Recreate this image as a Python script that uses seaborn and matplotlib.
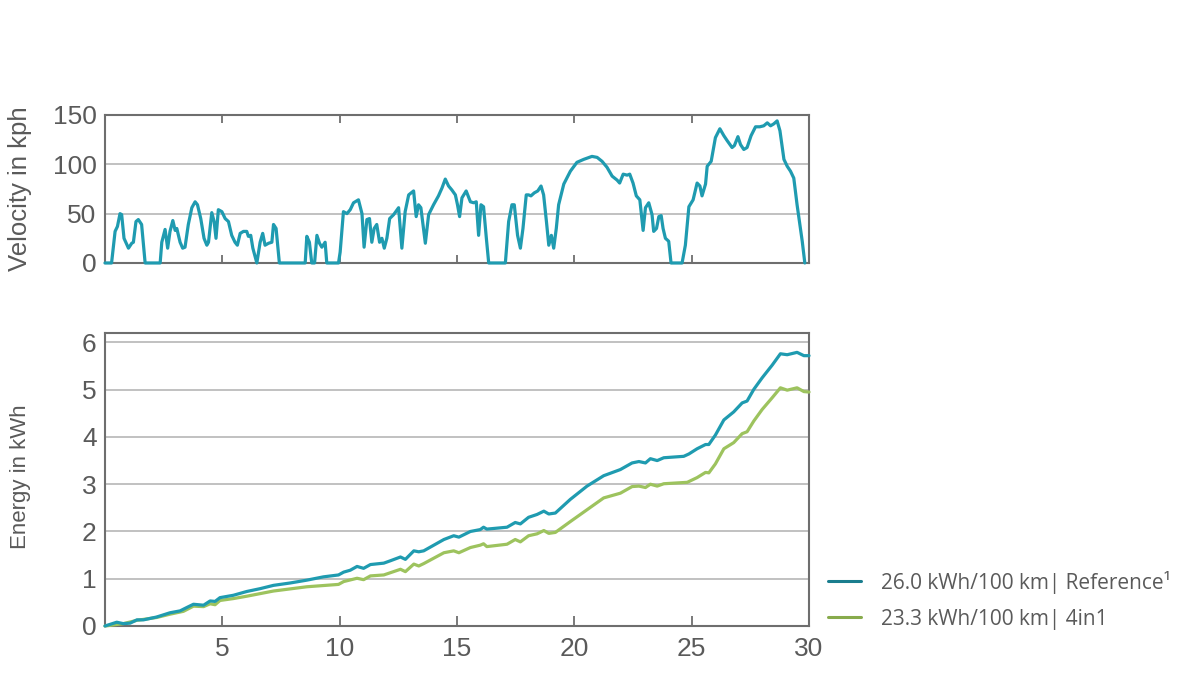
import matplotlib
matplotlib.use("Agg")
import matplotlib.pyplot as plt
from matplotlib.lines import Line2D
import pandas as pd
import seaborn as sns

sns.set_style("white")
plt.rcParams['font.family'] = ['Liberation Sans', 'DejaVu Sans']

# velocity trace (time in min, kph)
vel_time = [0.0, 0.28, 0.43, 0.53, 0.64, 0.71, 0.81, 1.00, 1.14, 1.21, 1.32, 1.42, 1.56, 1.71,
            2.35, 2.42, 2.56, 2.67, 2.77, 2.89, 2.99, 3.06, 3.20, 3.31, 3.41, 3.55, 3.70, 3.84,
            3.94, 4.08, 4.22, 4.34, 4.41, 4.55, 4.65, 4.73, 4.83, 4.98, 5.12, 5.26, 5.40, 5.54,
            5.64, 5.76, 5.90, 6.04, 6.11, 6.21, 6.30, 6.47, 6.61, 6.72, 6.82, 6.97, 7.11, 7.18,
            7.29, 7.43, 8.53, 8.60, 8.71, 8.81, 8.93, 9.03, 9.14, 9.24, 9.38, 9.45, 9.95, 10.02,
            10.16, 10.31, 10.45, 10.59, 10.80, 10.95, 11.04, 11.16, 11.27, 11.37, 11.47, 11.58,
            11.70, 11.80, 11.90, 12.01, 12.13, 12.30, 12.51, 12.65, 12.79, 12.94, 13.15, 13.26,
            13.36, 13.46, 13.65, 13.79, 14.00, 14.21, 14.36, 14.50, 14.64, 14.78, 14.93, 15.02,
            15.11, 15.21, 15.39, 15.57, 15.71, 15.82, 15.92, 16.02, 16.13, 16.25, 16.35, 17.06,
            17.20, 17.34, 17.44, 17.58, 17.70, 17.81, 17.95, 18.05, 18.15, 18.29, 18.44, 18.58,
            18.69, 18.81, 18.91, 19.02, 19.12, 19.23, 19.33, 19.55, 19.83, 20.11, 20.40, 20.75,
            20.97, 21.18, 21.39, 21.61, 21.82, 21.93, 22.08, 22.25, 22.36, 22.50, 22.64, 22.79,
            22.93, 23.03, 23.17, 23.31, 23.38, 23.50, 23.60, 23.70, 23.78, 23.88, 24.02, 24.12,
            24.59, 24.73, 24.88, 25.06, 25.23, 25.35, 25.44, 25.59, 25.66, 25.83, 26.01, 26.20,
            26.37, 26.51, 26.72, 26.82, 26.97, 27.08, 27.22, 27.36, 27.53, 27.72, 27.90, 28.07,
            28.22, 28.36, 28.50, 28.64, 28.76, 28.93, 29.07, 29.21, 29.35, 29.49, 29.61, 29.71,
            29.82]
velocity = [0, 0, 32, 37, 50, 49, 25, 15, 20, 21, 42, 44, 39, 0,
            0, 21, 34, 15, 32, 43, 33, 35, 21, 15, 16, 39, 56, 62,
            59, 45, 25, 18, 21, 51, 42, 25, 54, 52, 45, 42, 28, 21,
            18, 30, 32, 32, 27, 28, 15, 0, 21, 30, 18, 20, 21, 39,
            35, 0, 0, 27, 21, 0, 0, 28, 20, 16, 21, 0, 0, 11,
            52, 50, 54, 61, 64, 50, 16, 44, 45, 21, 35, 39,
            21, 25, 15, 25, 45, 49, 56, 15, 52, 69, 73, 47,
            59, 56, 20, 49, 59, 68, 76, 85, 78, 74, 69, 59,
            47, 66, 73, 62, 61, 62, 28, 59, 57, 25, 0, 0,
            42, 59, 59, 28, 15, 35, 69, 69, 68, 71, 73, 78,
            69, 42, 18, 28, 15, 35, 59, 80, 93, 102, 105, 108,
            107, 103, 97, 88, 84, 81, 90, 89, 90, 81, 68, 64,
            33, 56, 61, 49, 32, 35, 47, 48, 35, 25, 22, 0,
            0, 18, 57, 64, 81, 78, 68, 80, 98, 103, 127, 136,
            129, 124, 117, 119, 128, 120, 115, 117, 129, 138, 138, 139,
            142, 139, 141, 144, 134, 105, 98, 93, 86, 59, 39, 22,
            0]

# cumulative energy (time in min, kWh)
ref_time = [0.0, 0.5, 0.78, 1.07, 1.36, 1.64, 2.2, 2.77, 3.2, 3.48, 3.77, 4.2, 4.48, 4.69,
            4.9, 5.47, 6.04, 6.61, 7.18, 7.89, 8.6, 9.31, 9.95, 10.17, 10.45, 10.74, 11.02,
            11.31, 11.88, 12.16, 12.59, 12.8, 13.16, 13.37, 13.58, 14.01, 14.44, 14.86, 15.08,
            15.57, 15.99, 16.13, 16.27, 17.13, 17.48, 17.70, 18.05, 18.41, 18.70, 18.91, 19.19,
            19.83, 20.54, 21.25, 21.96, 22.46, 22.75, 23.03, 23.24, 23.53, 23.81, 24.66, 24.88,
            25.23, 25.59, 25.73, 26.01, 26.37, 26.79, 27.15, 27.36, 27.65, 28.0, 28.43, 28.78,
            29.07, 29.49, 29.78, 30.0]
ref_energy = [0, 0.08, 0.05, 0.06, 0.13, 0.13, 0.19, 0.28, 0.32, 0.39, 0.46, 0.44, 0.53, 0.52,
              0.60, 0.65, 0.73, 0.79, 0.86, 0.91, 0.97, 1.04, 1.08, 1.14, 1.18, 1.26, 1.22,
              1.30, 1.33, 1.38, 1.46, 1.41, 1.59, 1.57, 1.59, 1.71, 1.83, 1.91, 1.88,
              2.00, 2.04, 2.09, 2.05, 2.09, 2.19, 2.16, 2.30, 2.36, 2.43, 2.37, 2.39,
              2.68, 2.96, 3.18, 3.31, 3.45, 3.48, 3.45, 3.54, 3.50, 3.56, 3.59, 3.64,
              3.75, 3.84, 3.84, 4.04, 4.36, 4.53, 4.72, 4.76, 5.01, 5.25, 5.52, 5.76,
              5.74, 5.79, 5.72, 5.72]
new_time = [0.0, 0.78, 1.36, 2.2, 2.77, 3.34, 3.77, 4.2, 4.48, 4.69, 4.9, 5.47, 6.04, 7.18,
            8.6, 9.95, 10.17, 10.74, 11.02, 11.31, 11.88, 12.59, 12.8, 13.16, 13.37, 13.58,
            14.44, 14.86, 15.08, 15.57, 15.99, 16.13, 16.27, 17.13, 17.48, 17.70, 18.05, 18.41,
            18.70, 18.91, 19.19, 19.83, 20.54, 21.25, 21.96, 22.46, 22.75, 23.03, 23.24, 23.53,
            23.81, 24.81, 25.23, 25.59, 25.73, 26.01, 26.37, 26.79, 27.15, 27.36, 27.65, 28.0,
            28.43, 28.78, 29.07, 29.49, 29.78, 30.0]
new_energy = [0, 0.05, 0.12, 0.18, 0.25, 0.31, 0.42, 0.41, 0.47, 0.45, 0.54, 0.58, 0.63, 0.74,
              0.83, 0.88, 0.94, 1.01, 0.98, 1.06, 1.08, 1.20, 1.15, 1.31, 1.27, 1.32,
              1.55, 1.59, 1.55, 1.66, 1.71, 1.74, 1.68, 1.73, 1.83, 1.78, 1.91, 1.95,
              2.02, 1.96, 1.98, 2.21, 2.46, 2.71, 2.81, 2.95, 2.96, 2.93, 3.00, 2.96,
              3.01, 3.04, 3.14, 3.25, 3.24, 3.43, 3.75, 3.88, 4.07, 4.11, 4.34, 4.58,
              4.83, 5.04, 4.99, 5.04, 4.96, 4.95]

legend_labels = ["26.0 kWh/100 km| Reference\u00b9", "23.3 kWh/100 km| 4in1"]

TEAL = "#1f9bb0"
GREEN = "#9dc35e"
SPINE = "#6e6e6e"
TXT = "#5a5a5a"

vel_df = pd.DataFrame({"t": vel_time, "v": velocity})
ref_df = pd.DataFrame({"t": ref_time, "e": ref_energy})
new_df = pd.DataFrame({"t": new_time, "e": new_energy})

fig = plt.figure(figsize=(12, 6.75), dpi=100)
ax1 = fig.add_axes([0.0875, 0.6104, 0.5867, 0.2193])
ax2 = fig.add_axes([0.0875, 0.0726, 0.5867, 0.4341])

sns.lineplot(data=vel_df, x="t", y="v", ax=ax1, color=TEAL, lw=2.3, estimator=None,
             sort=False, clip_on=False, zorder=5)
sns.lineplot(data=new_df, x="t", y="e", ax=ax2, color=GREEN, lw=2.3, estimator=None,
             sort=False, clip_on=False, zorder=5)
sns.lineplot(data=ref_df, x="t", y="e", ax=ax2, color=TEAL, lw=2.3, estimator=None,
             sort=False, clip_on=False, zorder=6)

for ax in (ax1, ax2):
    ax.set_xlim(0, 30)
    ax.set_xticks([5, 10, 15, 20, 25, 30])
    ax.grid(axis="y", color="#b0b0b0", lw=1.1)
    ax.grid(axis="x", visible=False)
    ax.set_axisbelow(True)
    for s in ax.spines.values():
        s.set_color(SPINE)
        s.set_linewidth(1.5)
    ax.tick_params(axis="y", length=0, labelsize=19, labelcolor=TXT, pad=6)
    ax.set_xlabel("")

ax1.set_ylim(0, 150)
ax1.set_yticks([0, 50, 100, 150])
ax1.tick_params(axis="x", direction="in", top=True, bottom=True, length=6, width=1.3,
                color=SPINE, labelbottom=False)
ax1.set_ylabel("Velocity in kph", fontsize=18.5, color=TXT)
ax1.yaxis.set_label_coords(-0.103, 0.5)

ax2.set_ylim(0, 6.2)
ax2.set_yticks([0, 1, 2, 3, 4, 5, 6])
ax2.tick_params(axis="x", direction="in", bottom=True, length=7, width=1.3,
                color=SPINE, labelsize=19, labelcolor=TXT, pad=8)
ax2.set_ylabel("Energy in kWh", fontsize=16, color=TXT)
ax2.yaxis.set_label_coords(-0.105, 0.51)

handles = [Line2D([], [], color="#1a7d8e", lw=2.2), Line2D([], [], color="#88ab4c", lw=2.2)]
fig.legend(handles, legend_labels, loc="center left", bbox_to_anchor=(0.681, 0.111),
           frameon=False, handlelength=1.6, handletextpad=0.95, labelspacing=0.72,
           borderpad=0, prop={"family": "Open Sans", "size": 15}, labelcolor=TXT)

fig.savefig("out.png", dpi=100)
